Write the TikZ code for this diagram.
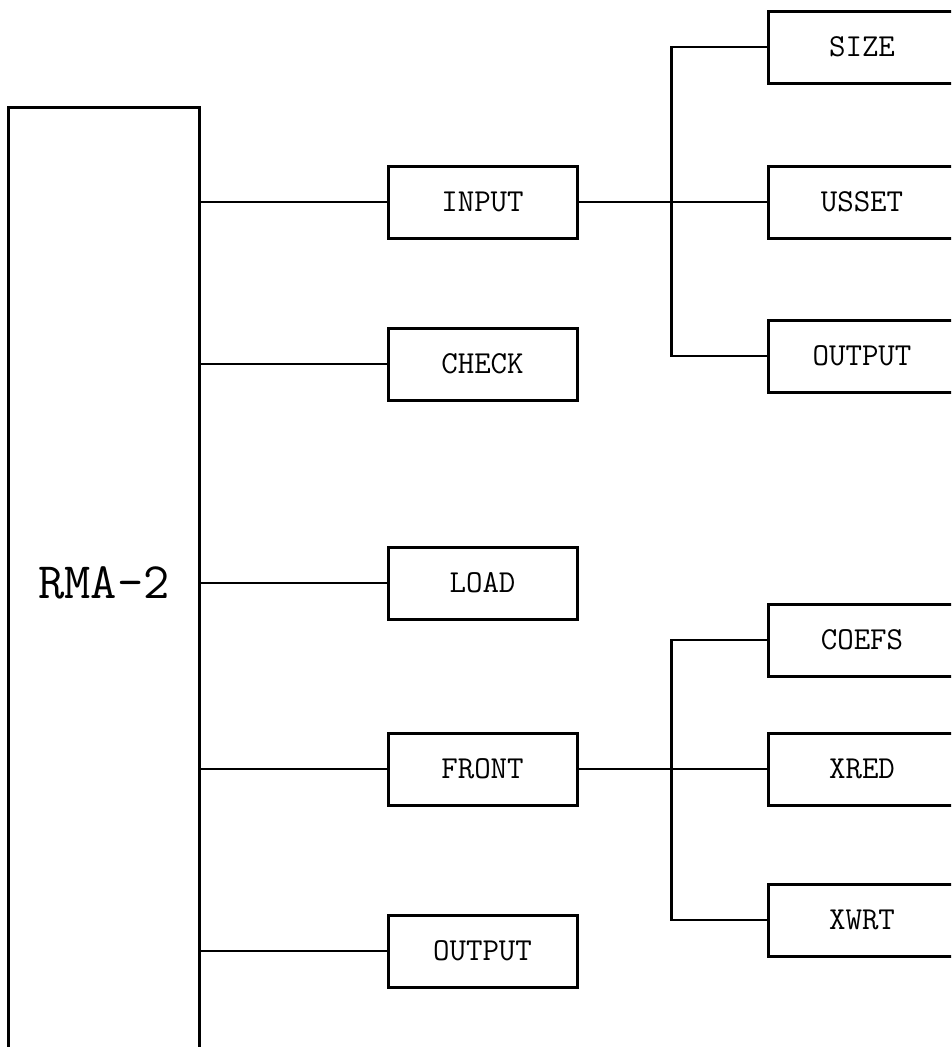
\documentclass[tikz,border=0pt]{standalone}
\usepackage{tikz}
\usetikzlibrary{calc, positioning}

\begin{document}
\begin{tikzpicture}[x=1pt, y=-1pt,
    modbox/.style={draw, line width=3pt, minimum width=189pt, minimum height=72pt,
        inner sep=0pt, font=\ttfamily\fontsize{32}{34}\selectfont},
    subbox/.style={modbox, minimum width=188pt},
    link/.style={line width=2.5pt}]
    % Khung hình
    \useasboundingbox (0,0) rectangle (951,1047);
    \clip (0,0) rectangle (951,1047);

    % Khối chính
    \node[draw, line width=3pt, minimum width=191pt, minimum height=952pt, inner sep=0pt,
        font=\ttfamily\fontsize{51}{54}\selectfont] (rma) at (104,583) {RMA-2};

    % Các mô-đun cấp 1
    \node[modbox] (input)  at (482.5,202) {INPUT};
    \node[modbox] (check)  at (482.5,364) {CHECK};
    \node[modbox] (load)   at (482.5,583) {LOAD};
    \node[modbox] (front)  at (482.5,769) {FRONT};
    \node[modbox] (output) at (482.5,951) {OUTPUT};

    % Các mô-đun cấp 2
    \node[subbox] (size)    at (862,47)  {SIZE};
    \node[subbox] (usset)   at (862,202) {USSET};
    \node[subbox] (inout)   at (862,356) {OUTPUT};
    \node[subbox] (coefs)   at (862,640) {COEFS};
    \node[subbox] (xred)    at (862,769) {XRED};
    \node[subbox] (xwrt)    at (862,920) {XWRT};

    % Nối khối chính với cấp 1
    \foreach \m in {input, check, load, front, output}
        \draw[link] (rma.east |- \m.west) -- (\m.west);

    % Nối cấp 1 với cấp 2
    \draw[link] (input.east) -- (usset.west);
    \draw[link] (size.west) -- ++(-95,0) |- (inout.west);
    \draw[link] (front.east) -- (xred.west);
    \draw[link] (coefs.west) -- ++(-95,0) |- (xwrt.west);
\end{tikzpicture}
\end{document}
